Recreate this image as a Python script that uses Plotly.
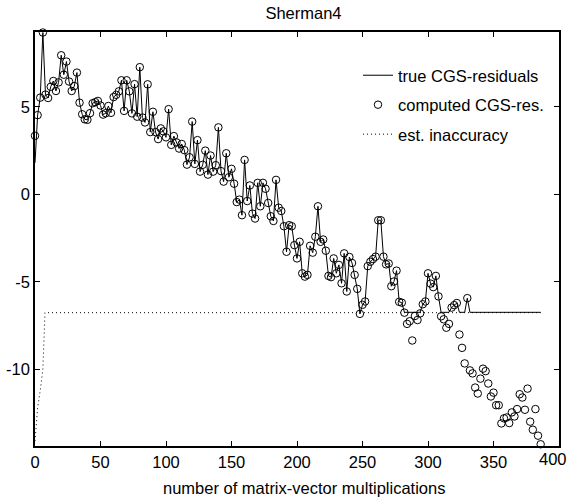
import plotly.graph_objects as go

# matrix-vector multiplications (two per CGS step)
mv = list(range(0, 388, 2))

# computed CGS residuals (log10 scale values)
computed_res = [
    3.35, 4.53, 5.53, 9.25, 5.70, 5.51, 6.15, 6.48, 5.91, 6.40,
    7.95, 6.84, 7.59, 6.45, 5.91, 6.19, 6.96, 5.24, 4.58, 4.29,
    4.26, 4.64, 5.21, 5.27, 5.34, 5.08, 4.56, 4.64, 5.05, 4.66,
    5.56, 5.69, 5.89, 6.52, 4.77, 6.52, 5.89, 4.63, 6.30, 4.44,
    7.27, 4.39, 4.11, 6.29, 3.56, 4.72, 3.56, 3.16, 3.77, 3.60,
    3.26, 4.87, 2.83, 3.33, 2.97, 2.62, 2.88, 2.53, 1.70, 2.12,
    4.16, 1.74, 3.10, 1.30, 1.69, 2.50, 1.13, 2.22, 1.30, 1.67,
    3.83, 1.33, 0.73, 2.35, 0.98, 1.46, 0.61, -0.44, -0.30, -1.19,
    1.97, -0.38, 0.51, -1.10, -1.38, 0.66, -0.68, 0.66, 0.32, -0.49,
    -1.25, -1.52, 0.83, -0.76, -0.95, -1.82, -3.28, -1.76, -1.82, -2.90,
    -3.66, -2.71, -4.51, -4.70, -4.60, -2.94, -3.33, -2.42, -0.68, -2.71,
    -2.58, -3.22, -4.66, -4.73, -3.66, -4.51, -4.03, -5.08, -3.37, -5.55,
    -3.58, -3.92, -4.60, -5.40, -6.83, -6.31, -6.12, -4.10, -3.85, -3.70,
    -3.56, -1.48, -1.48, -3.56, -4.00, -3.95, -5.25, -4.98, -4.36, -6.14,
    -6.19, -6.76, -7.40, -7.25, -8.35, -6.95, -7.18, -6.80, -6.28, -6.12,
    -4.51, -5.10, -5.30, -4.66, -5.83, -6.97, -7.14, -7.62, -7.40, -6.47,
    -6.33, -6.21, -8.01, -8.77, -9.66, -5.93, -10.06, -10.23, -11.04, -11.38,
    -10.53, -9.96, -10.10, -10.81, -11.55, -11.33, -12.05, -12.05, -13.09, -12.80,
    -12.75, -13.07, -12.46, -12.69, -12.27, -11.42, -11.61, -12.31, -11.10, -12.99,
    -13.45, -12.27, -13.79, -14.28,
]

# true CGS residuals
true_res = [
    1.80, 4.53, 5.53, 9.25, 5.70, 5.51, 6.15, 6.48, 5.91, 6.40,
    7.95, 6.84, 7.59, 6.45, 5.91, 6.19, 6.96, 5.24, 4.58, 4.29,
    4.26, 4.64, 5.21, 5.27, 5.34, 5.08, 4.56, 4.64, 5.05, 4.66,
    5.56, 5.69, 5.89, 6.52, 4.77, 6.52, 5.89, 4.63, 6.30, 4.44,
    7.27, 4.39, 4.11, 6.29, 3.56, 4.72, 3.56, 3.16, 3.77, 3.60,
    3.26, 4.87, 2.83, 3.33, 2.97, 2.62, 2.88, 2.53, 1.70, 2.12,
    4.16, 1.74, 3.10, 1.30, 1.69, 2.50, 1.13, 2.22, 1.30, 1.67,
    3.83, 1.33, 0.73, 2.35, 0.98, 1.46, 0.61, -0.44, -0.30, -1.19,
    1.97, -0.38, 0.51, -1.10, -1.38, 0.66, -0.68, 0.66, 0.32, -0.49,
    -1.25, -1.52, 0.83, -0.76, -0.95, -1.82, -3.28, -1.76, -1.82, -2.90,
    -3.66, -2.71, -4.51, -4.70, -4.60, -2.94, -3.33, -2.42, -0.68, -2.71,
    -2.58, -3.22, -4.66, -4.73, -3.66, -4.51, -4.03, -5.08, -3.37, -5.55,
    -3.58, -3.92, -4.60, -5.40, -6.83, -6.31, -6.12, -4.10, -3.85, -3.70,
    -3.56, -1.48, -1.48, -3.56, -4.00, -3.95, -5.25, -4.98, -4.36, -6.14,
    -6.19, -6.74, -6.74, -6.74, -6.74, -6.74, -6.74, -6.74, -6.28, -6.12,
    -4.51, -5.10, -5.30, -4.66, -5.83, -6.74, -6.74, -6.74, -6.74, -6.47,
    -6.33, -6.21, -6.74, -6.74, -6.74, -5.93, -6.74, -6.74, -6.74, -6.74,
    -6.74, -6.74, -6.74, -6.74, -6.74, -6.74, -6.74, -6.74, -6.74, -6.74,
    -6.74, -6.74, -6.74, -6.74, -6.74, -6.74, -6.74, -6.74, -6.74, -6.74,
    -6.74, -6.74, -6.74, -6.74,
]

# estimated inaccuracy
est_x = [0, 2, 4, 6, 7.6, 386]
est_y = [-14.1, -12.2, -11.2, -10.0, -6.76, -6.76]

x_ticks = [0, 50, 100, 150, 200, 250, 300, 350, 400]
x_tick_text = ["0", "50", "100", "150", "200", "250", "300", "350", ""]
last_x_label = "400"
y_ticks = [-10, -5, 0, 5]
y_tick_text = ["-10", "-5", "0", "5"]

FONT = "Liberation Sans, Arial, Helvetica, sans-serif"
FS = 16.5

fig = go.Figure()
fig.add_trace(go.Scatter(
    x=mv, y=true_res, mode="lines", name="true CGS-residuals",
    line=dict(color="black", width=1), legendgroup="a"))
fig.add_trace(go.Scatter(
    x=mv, y=computed_res, mode="markers", name="computed CGS-res.",
    marker=dict(symbol="circle-open", size=7.5, color="black",
                line=dict(width=1, color="black")),
    cliponaxis=False, legendgroup="b"))
fig.add_trace(go.Scatter(
    x=est_x, y=est_y, mode="lines", name="est. inaccuracy",
    line=dict(color="black", width=1, dash="1px,3px"), legendgroup="c"))

axis_common = dict(
    showgrid=False, zeroline=False, showline=True, linecolor="black",
    linewidth=1.5, mirror="allticks", ticks="inside", ticklen=5,
    tickwidth=1, tickcolor="black", ticklabeloverflow="allow",
    automargin=False,
    tickfont=dict(family=FONT, size=FS, color="black"))

fig.update_xaxes(range=[0, 400], tickvals=x_ticks, ticktext=x_tick_text,
                 **axis_common)
fig.update_yaxes(range=[-14.38, 9.28], tickvals=y_ticks,
                 ticktext=y_tick_text, **axis_common)

fig.update_layout(
    width=570, height=499,
    margin=dict(l=35, r=11, t=32, b=53, autoexpand=False),
    paper_bgcolor="white", plot_bgcolor="white",
    font=dict(family=FONT, size=FS, color="black"),
    title=dict(text="Sherman4", x=303.5 / 570, xanchor="center",
               xref="container", yref="container", y=1 - 13 / 499,
               yanchor="middle", font=dict(family=FONT, size=FS, color="black")),
    showlegend=True,
    legend=dict(x=(358 - 35) / 524, xanchor="left",
                y=(446 - 58) / 414, yanchor="top",
                bgcolor="rgba(0,0,0,0)", borderwidth=0,
                font=dict(family=FONT, size=FS, color="black"),
                tracegroupgap=5, traceorder="grouped"),
    annotations=[
        dict(text="number of matrix-vector multiplications",
             x=(304 - 35) / 524, xref="paper", y=-41.5 / 414, yref="paper",
             xanchor="center", yanchor="middle", showarrow=False,
             font=dict(family=FONT, size=FS, color="black")),
        dict(text=last_x_label, x=x_ticks[-1], xref="x", xanchor="right",
             xshift=10, y=-13.5 / 414, yref="paper", yanchor="middle",
             showarrow=False,
             font=dict(family=FONT, size=FS, color="black")),
    ],
)

fig.write_html("out.html")
